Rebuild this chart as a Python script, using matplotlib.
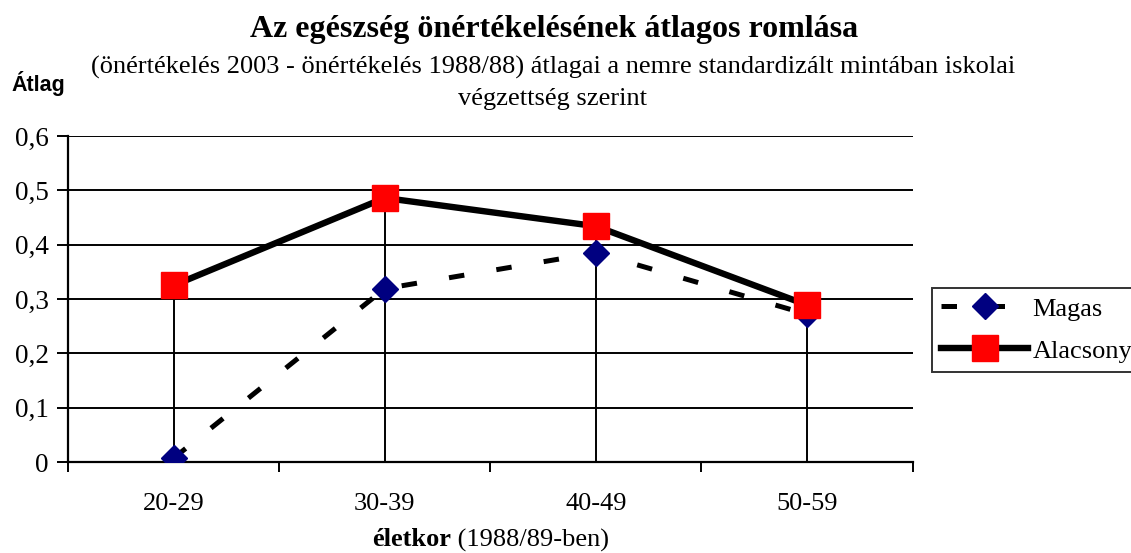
import numpy as np
import matplotlib
matplotlib.use("Agg")
from matplotlib import pyplot as plt
from matplotlib.ticker import FixedLocator, FuncFormatter

# data
age_groups = ["20-29", "30-39", "40-49", "50-59"]
magas = [0.007, 0.319, 0.385, 0.272]
alacsony = [0.325, 0.486, 0.434, 0.289]
y_ticks = [0.0, 0.1, 0.2, 0.3, 0.4, 0.5, 0.6]

plt.rcParams["font.family"] = ["Liberation Serif", "DejaVu Serif"]

W, H = 1131, 553
fig = plt.figure(figsize=(W / 100, H / 100), dpi=100)
ax = fig.add_axes([68 / W, 1 - 462 / H, (912.5 - 68) / W, (462 - 136) / H])

x = np.arange(len(age_groups))

# drop lines from the higher point down to zero
tops = np.maximum(magas, alacsony)
ax.vlines(x, 0, tops, color="black", lw=1.4, zorder=2)

ax.plot(x, magas, color="black", lw=3.6, dashes=(3.1, 6.5),
        marker="D", markersize=13.5, markerfacecolor="#000080",
        markeredgecolor="#000080", label="Magas", zorder=3)
ax.plot(x, alacsony, color="black", lw=4.6,
        marker="s", markersize=19, markerfacecolor="#FF0000",
        markeredgecolor="#FF0000", label="Alacsony", zorder=4)

ax.set_xlim(-0.5, len(age_groups) - 0.5)
ax.set_ylim(0, 0.6)

ax.set_yticks(y_ticks)
ax.yaxis.set_major_formatter(FuncFormatter(lambda v, p: f"{v:.1f}".replace(".", ",") if v else "0"))
ax.yaxis.grid(True, color="black", lw=1.4)
ax.set_axisbelow(True)
ax.tick_params(axis="y", direction="out", length=8, width=1.4, labelsize=19.5, pad=6)

ax.set_xticks(x)
ax.set_xticklabels(age_groups)
ax.tick_params(axis="x", which="major", length=0, labelsize=19, pad=22)
ax.xaxis.set_minor_locator(FixedLocator(np.append(x + 0.5, -0.5)))
ax.tick_params(axis="x", which="minor", direction="out", length=7, width=1.4)

for side in ("top", "right"):
    ax.spines[side].set_visible(False)
for side in ("left", "bottom"):
    ax.spines[side].set_linewidth(1.6)

leg = ax.legend(loc="upper left", bbox_to_anchor=(932 / W, 1 - 288 / H),
                bbox_transform=fig.transFigure, fontsize=19, frameon=True,
                fancybox=False, borderpad=0.35, handlelength=3.3,
                handletextpad=0.15, labelspacing=0.7, borderaxespad=0)
leg.get_frame().set_edgecolor("black")
leg.get_frame().set_linewidth(1.4)

fig.text(554 / W, 1 - 30 / H, "Az egészség önértékelésének átlagos romlása",
         ha="center", va="center", fontsize=23, fontweight="bold")
fig.text(553 / W, 1 - 67 / H,
         "(önértékelés 2003 - önértékelés 1988/88) átlagai a nemre standardizált mintában iskolai",
         ha="center", va="center", fontsize=19)
fig.text(553 / W, 1 - 99 / H, "végzettség szerint",
         ha="center", va="center", fontsize=19)
fig.text(11 / W, 1 - 83 / H, "Átlag", ha="left", va="center",
         fontsize=15.5, fontweight="bold", family=["Liberation Sans", "DejaVu Sans"])

fig.text(451 / W, 1 - 540 / H, "életkor", ha="right", va="center",
         fontsize=19, fontweight="bold")
fig.text(451 / W, 1 - 540 / H, " (1988/89-ben)", ha="left", va="center",
         fontsize=19)

fig.savefig("out.png", dpi=100)
